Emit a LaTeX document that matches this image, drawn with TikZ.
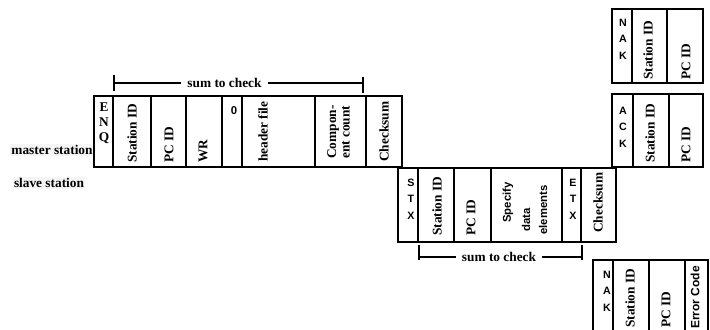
\documentclass[tikz,border=0pt]{standalone}
\usepackage{fontspec}
\setmainfont{Liberation Serif}
\newfontfamily\sansf{Liberation Sans}
\begin{document}
\begin{tikzpicture}[x=0.75pt,y=-0.75pt,
 frame/.style={line width=1.4pt},
 vt/.style={rotate=90,anchor=west,inner sep=0pt,font=\bfseries\fontsize{10}{10}\selectfont},
 vs/.style={rotate=90,anchor=west,inner sep=0pt,font=\sansf\bfseries\fontsize{8.5}{10}\selectfont},
 stack/.style={align=center,inner sep=0pt,font=\sansf\bfseries\fontsize{8}{12.4}\selectfont},
 sstack/.style={align=center,inner sep=0pt,font=\bfseries\fontsize{10}{11.25}\selectfont},
 lbl/.style={font=\bfseries\fontsize{10}{12}\selectfont,inner sep=1pt,fill=black!4},
 sumlbl/.style={font=\bfseries\fontsize{10}{12}\selectfont,inner ysep=1pt,inner xsep=4.5pt},
 brk/.style={line width=1.4pt}]
\useasboundingbox (0,0) rectangle (710,329);
\clip (0,0) rectangle (710,329);

% labels
\node[lbl] (master) at (52,150) {master station};
\node[lbl] (slave) at (49,183) {slave station};

% master frame
\draw[frame] (94,96) rectangle (402,167);
\foreach \x in {113,151,186,222,242,315,366} \draw[frame] (\x,96) -- (\x,167);
\node[sstack] (enq) at (104,123) {E\\N\\Q};
\node[vt] (mst) at (132,163) {Station ID};
\node[vt] (mpc) at (169,163) {PC ID};
\node[vt] (mwr) at (203,163) {WR};
\node[inner sep=0pt,font=\sansf\bfseries\fontsize{8.5}{10}\selectfont] (zero) at (234,111) {0};
\node[vt] (mhf) at (263,162) {header file};
\node[vt,align=left] (mcc) at (338.5,159) {Compon-\\ent count};
\node[vt] (mcs) at (384,162) {Checksum};

% top bracket
\coordinate (tl1) at (114,75); \coordinate (tl2) at (114,91);
\coordinate (tl) at (114,83);
\coordinate (tr1) at (363,77); \coordinate (tr2) at (363,93);
\coordinate (tr) at (363,83);
\node[sumlbl] (sumtop) at (224.5,83) {sum to check};
\draw[brk] (tl1) -- (tl2);
\draw[brk] (tr1) -- (tr2);
\draw[brk] (tl) -- (sumtop.west);
\draw[brk] (sumtop.east) -- (tr);

% slave frame
\draw[frame] (398,168) rectangle (616,242);
\foreach \x in {418,454,491,562,581} \draw[frame] (\x,168) -- (\x,242);
\node[stack] (stx) at (411,199) {S\\T\\X};
\node[vt] (sst) at (437,236) {Station ID};
\node[vt] (spc) at (471,236) {PC ID};
\node[vs] (sp1) at (508,223) {Specify};
\node[vs] (sp2) at (526,232) {data};
\node[vs] (sp3) at (543,235) {elements};
\node[stack] (etx) at (573,199) {E\\T\\X};
\node[vt] (scs) at (598,233) {Checksum};

% bottom bracket
\coordinate (bl1) at (419,245); \coordinate (bl2) at (419,260);
\coordinate (bl) at (419,257);
\coordinate (br1) at (582,245); \coordinate (br2) at (582,260);
\coordinate (br) at (582,257);
\node[sumlbl] (sumbot) at (499,257) {sum to check};
\draw[brk] (bl1) -- (bl2);
\draw[brk] (br1) -- (br2);
\draw[brk] (bl) -- (sumbot.west);
\draw[brk] (sumbot.east) -- (br);

% NAK top
\draw[frame] (612,9) rectangle (703,83);
\foreach \x in {632,667} \draw[frame] (\x,9) -- (\x,83);
\node[stack] (nak1) at (623,39) {N\\A\\K};
\node[vt] (n1st) at (648,80) {Station ID};
\node[vt] (n1pc) at (686,80) {PC ID};

% ACK
\draw[frame] (612,94) rectangle (703,167);
\foreach \x in {633,669} \draw[frame] (\x,94) -- (\x,167);
\node[stack] (ack) at (623,127) {A\\C\\K};
\node[vt] (ast) at (650,163) {Station ID};
\node[vt] (apc) at (686,163) {PC ID};

% NAK bottom
\draw[frame] (593,340) -- (593,260) -- (708,260) -- (708,340);
\foreach \x in {613,649,685} \draw[frame] (\x,260) -- (\x,340);
\node[stack] (nak2) at (607,291) {N\\A\\K};
\node[vt] (n2st) at (630,328) {Station ID};
\node[vt] (n2pc) at (666,328) {PC ID};
\node[vs,font=\sansf\bfseries\fontsize{9}{10}\selectfont] (n2ec) at (695,329) {Error Code};
\end{tikzpicture}
\end{document}
